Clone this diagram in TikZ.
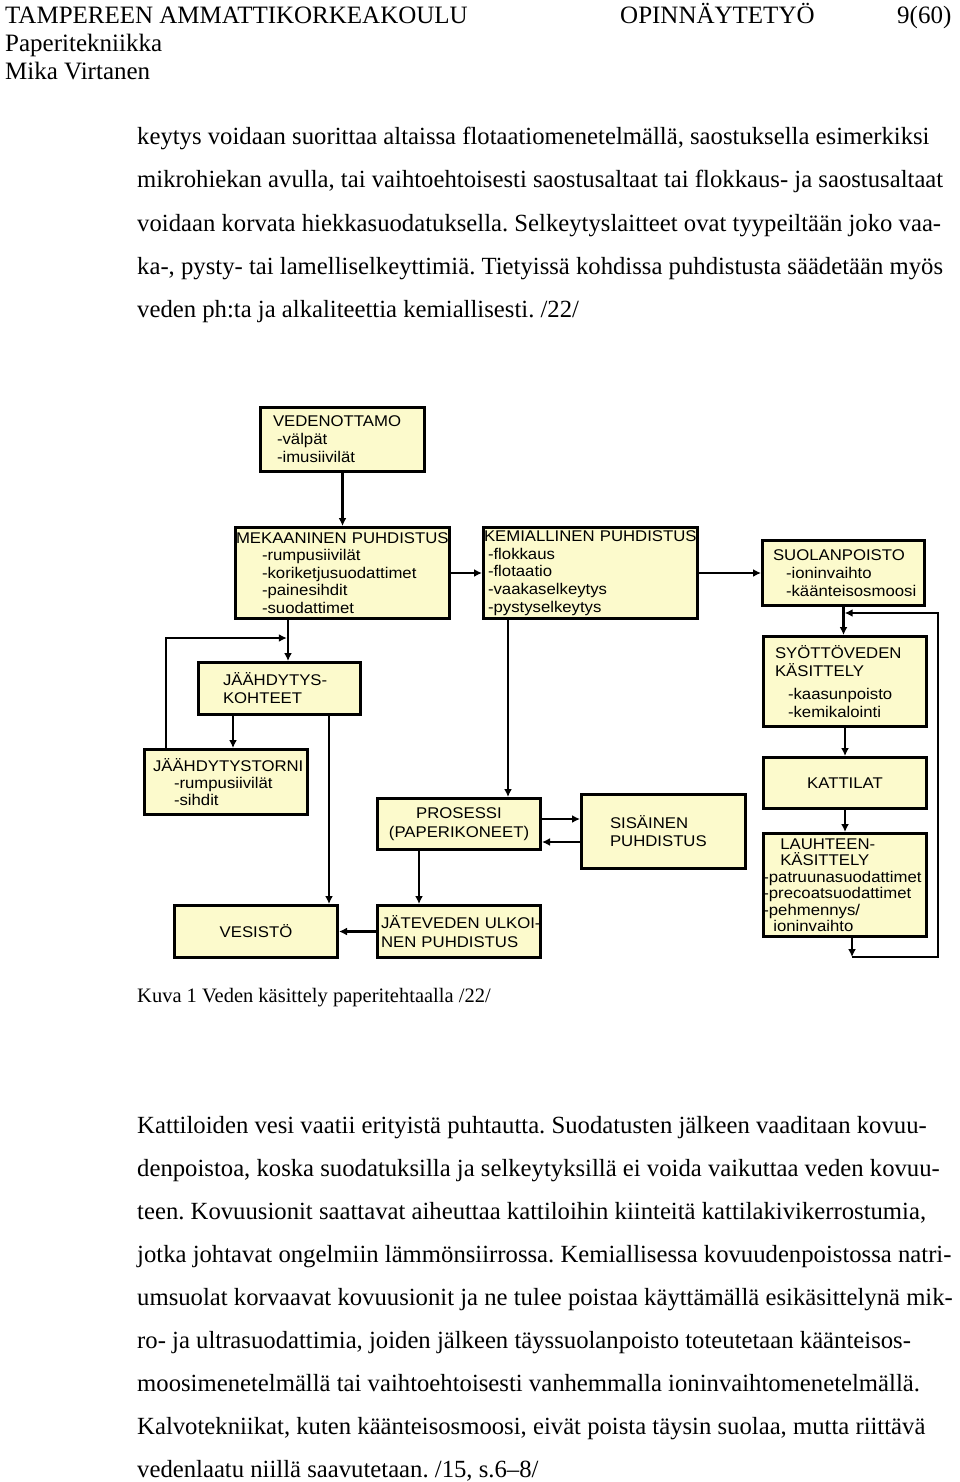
\documentclass[tikz,border=0pt]{standalone}
\usepackage{fontspec}
\setmainfont{Liberation Serif}
\newfontfamily\boxfont{Liberation Sans}[FakeStretch=1.08]
\usetikzlibrary{calc}
\usetikzlibrary{arrows.meta}
\frenchspacing

\definecolor{boxfill}{RGB}{252,250,204}

\tikzset{
	stage/.style={draw, line width=2.6pt, fill=boxfill, inner ysep=0pt, align=left,
		execute at begin node={\hyphenpenalty=10000\exhyphenpenalty=10000\hfuzz=20pt},
		font=\boxfont\fontsize{15.5}{18}\selectfont},
	flow/.style={->, line width=2.4pt},
	bodyline/.style={anchor=base west, inner sep=0pt, font=\fontsize{24.7}{30}\selectfont},
	headline/.style={anchor=base west, inner sep=0pt, font=\fontsize{25}{30}\selectfont},
	captionline/.style={anchor=base west, inner sep=0pt, font=\fontsize{20.5}{25}\selectfont},
}

\begin{document}
\begin{tikzpicture}[x=1pt, y=-1pt]
			\begin{scope}[>={Latex[length=8pt,width=8pt]}] %for filled arrow tips
			\useasboundingbox (0,0) rectangle (960,1482);
			
			%page header
			\node[headline] (school) at (5,24) {TAMPEREEN AMMATTIKORKEAKOULU};
			\node[headline] (doctype) at (620,24) {OPINNÄYTETYÖ};
			\node[headline] (pageno) at (897,24) {9(60)};
			\node[headline] (dept) at (5,52) {Paperitekniikka};
			\node[headline] (writer) at (5,80) {Mika Virtanen};
			
			\pgfmathsetmacro\textLeft{137}
			
			%first paragraph
			\node[bodyline] (introA) at (\textLeft,145) {keytys voidaan suorittaa altaissa flotaatiomenetelmällä, saostuksella esimerkiksi};
			\node[bodyline] (introB) at (\textLeft,188) {mikrohiekan avulla, tai vaihtoehtoisesti saostusaltaat tai flokkaus- ja saostusaltaat};
			\node[bodyline] (introC) at (\textLeft,231) {voidaan korvata hiekkasuodatuksella. Selkeytyslaitteet ovat tyypeiltään joko vaa-};
			\node[bodyline] (introD) at (\textLeft,274) {ka-, pysty- tai lamelliselkeyttimiä. Tietyissä kohdissa puhdistusta säädetään myös};
			\node[bodyline] (introE) at (\textLeft,317) {veden ph:ta ja alkaliteettia kemiallisesti. /22/};
			
			%boxes of the flow chart
			\node[stage, text width=139pt, inner xsep=12.7pt, minimum height=64.4pt] (vedenottamo) at (342.5,439.5)
			{VEDENOTTAMO\\\hspace*{4pt}-välpät\\\hspace*{4pt}-imusiivilät};
			
			\node[stage, text width=213pt, inner xsep=0.7pt, minimum height=91.4pt,
				font=\boxfont\fontsize{15.5}{17.6}\selectfont] (mekaaninen) at (342.5,573)
			{MEKAANINEN~PUHDISTUS\\\hspace*{26pt}-rumpusiivilät\\\hspace*{26pt}-koriketjusuodattimet\\\hspace*{26pt}-painesihdit\\\hspace*{26pt}-suodattimet};
			
			\node[stage, text width=213pt, inner xsep=0.7pt, minimum height=91.4pt,
				font=\boxfont\fontsize{15.5}{17.6}\selectfont] (kemiallinen) at (590.5,573)
			{KEMIALLINEN~PUHDISTUS\\\hspace*{4pt}-flokkaus\\\hspace*{4pt}-flotaatio\\\hspace*{4pt}-vaakaselkeytys\\\hspace*{4pt}-pystyselkeytys};
			
			\node[stage, text width=141pt, inner xsep=10.7pt, minimum height=65.4pt] (suolanpoisto) at (843.5,573)
			{SUOLANPOISTO\\\hspace*{13pt}-ioninvaihto\\\hspace*{13pt}-käänteisosmoosi};
			
			\node[stage, text width=140pt, inner xsep=11.7pt, minimum height=90.4pt] (syottoveden) at (845,681.5)
			{SYÖTTÖVEDEN\\KÄSITTELY\\[5pt]\hspace*{13pt}-kaasunpoisto\\\hspace*{13pt}-kemikalointi};
			
			\node[stage, text width=153.4pt, inner xsep=5pt, minimum height=51.4pt, align=center] (kattilat) at (845,783)
			{KATTILAT};
			
			\node[stage, text width=163.4pt, inner xsep=0pt, minimum height=103.4pt,
				font=\boxfont\fontsize{15.5}{16.5}\selectfont] (lauhteen) at (845,885)
			{\hspace*{17pt}LAUHTEEN-\\\hspace*{17pt}KÄSITTELY\\-patruunasuodattimet\\-precoatsuodattimet\\-pehmennys/\\\hspace*{10pt}ioninvaihto};
			
			\node[stage, text width=113pt, inner xsep=24.7pt, minimum height=52.4pt] (jaahdytys) at (279.5,688.5)
			{JÄÄHDYTYS-\\KOHTEET};
			
			\node[stage, text width=146pt, inner xsep=8.7pt, minimum height=65.4pt, font=\boxfont\fontsize{15.5}{17}\selectfont] (torni) at (226,782)
			{JÄÄHDYTYSTORNI\\\hspace*{21pt}-rumpusiivilät\\\hspace*{21pt}-sihdit};
			
			\node[stage, text width=153.4pt, inner xsep=5pt, minimum height=51.4pt, align=center,
				font=\boxfont\fontsize{15.5}{19}\selectfont] (prosessi) at (459,824)
			{PROSESSI\\(PAPERIKONEET)};
			
			\node[stage, text width=107pt, inner xsep=28.7pt, minimum height=74.4pt] (sisainen) at (663.5,831.5)
			{SISÄINEN\\PUHDISTUS};
			
			\node[stage, text width=156pt, inner xsep=3.7pt, minimum height=52.4pt,
				font=\boxfont\fontsize{15.5}{19}\selectfont] (jatevesi) at (459,931.5)
			{JÄTEVEDEN~ULKOI-\\NEN~PUHDISTUS};
			
			\node[stage, text width=153.4pt, inner xsep=5pt, minimum height=52.4pt, align=center] (vesisto) at (256,931.5)
			{VESISTÖ};
			
			%main line
			\draw[flow] (vedenottamo) -- (mekaaninen);
			\draw[flow] (mekaaninen) -- (kemiallinen);
			\draw[flow] (kemiallinen.east) -- (kemiallinen.east -| suolanpoisto.west);
			\draw[flow] (suolanpoisto.south) -- (suolanpoisto.south |- syottoveden.north);
			\draw[flow] (syottoveden) -- (kattilat);
			\draw[flow] (kattilat) -- (lauhteen);
			
			%condensate back to the feed water
			\coordinate (loopLow) at (852,957);
			\coordinate (loopHigh) at (938,613);
			\draw[flow] (lauhteen.south -| loopLow) -- (loopLow);
			\draw[flow, shorten >=1.2pt] (loopLow) -| (loopHigh) -- (loopHigh -| suolanpoisto.south);
			
			%cooling water
			\draw[flow] ([xshift=8.5pt]jaahdytys.north |- mekaaninen.south) -- ([xshift=8.5pt]jaahdytys.north);
			\coordinate (coolJoin) at (288,638);
			\draw[flow, shorten >=1.2pt] ([xshift=-60pt]torni.north) |- (coolJoin);
			\draw[flow] ([xshift=-46.5pt]jaahdytys.south) -- ([xshift=-46.5pt]jaahdytys.south |- torni.north);
			\draw[flow] ([xshift=49.5pt]jaahdytys.south) -- ([xshift=49.5pt]jaahdytys.south |- vesisto.north);
			
			%process water
			\draw[flow] ([xshift=-82.5pt]kemiallinen.south) -- ([xshift=-82.5pt]kemiallinen.south |- prosessi.north);
			\draw[flow] ([yshift=5pt]prosessi.east) -- ([yshift=5pt]prosessi.east -| sisainen.west);
			\draw[flow] ([yshift=-18pt]prosessi.east -| sisainen.west) -- ([yshift=-18pt]prosessi.east);
			\draw[flow] ([xshift=-40pt]prosessi.south) -- ([xshift=-40pt]prosessi.south |- jatevesi.north);
			\draw[flow] (jatevesi) -- (vesisto);
			
			%caption
			\node[captionline] (caption) at (\textLeft,1002) {Kuva 1 Veden käsittely paperitehtaalla /22/};
			
			%second paragraph
			\node[bodyline] (boilerA) at (\textLeft,1133) {Kattiloiden vesi vaatii erityistä puhtautta. Suodatusten jälkeen vaaditaan kovuu-};
			\node[bodyline] (boilerB) at (\textLeft,1176) {denpoistoa, koska suodatuksilla ja selkeytyksillä ei voida vaikuttaa veden kovuu-};
			\node[bodyline] (boilerC) at (\textLeft,1219) {teen. Kovuusionit saattavat aiheuttaa kattiloihin kiinteitä kattilakivikerrostumia,};
			\node[bodyline] (boilerD) at (\textLeft,1262) {jotka johtavat ongelmiin lämmönsiirrossa. Kemiallisessa kovuudenpoistossa natri-};
			\node[bodyline] (boilerE) at (\textLeft,1305) {umsuolat korvaavat kovuusionit ja ne tulee poistaa käyttämällä esikäsittelynä mik-};
			\node[bodyline] (boilerF) at (\textLeft,1348) {ro- ja ultrasuodattimia, joiden jälkeen täyssuolanpoisto toteutetaan käänteisos-};
			\node[bodyline] (boilerG) at (\textLeft,1391) {moosimenetelmällä tai vaihtoehtoisesti vanhemmalla ioninvaihtomenetelmällä.};
			\node[bodyline] (boilerH) at (\textLeft,1434) {Kalvotekniikat, kuten käänteisosmoosi, eivät poista täysin suolaa, mutta riittävä};
			\node[bodyline] (boilerI) at (\textLeft,1477) {vedenlaatu niillä saavutetaan. /15, s.6–8/};
			
			\end{scope}
\end{tikzpicture}
\end{document}
